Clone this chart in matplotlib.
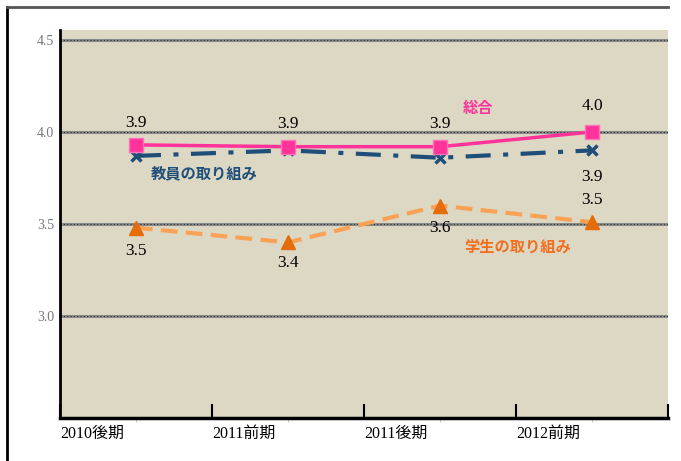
import matplotlib.pyplot as plt
from matplotlib.lines import Line2D

# data
periods = ['2010後期', '2011前期', '2011後期', '2012前期']
sogo = [3.93, 3.92, 3.92, 4.00]       # 総合
kyoin = [3.87, 3.90, 3.86, 3.90]      # 教員の取り組み
gakusei = [3.48, 3.40, 3.60, 3.51]    # 学生の取り組み
yticks = [3.0, 3.5, 4.0, 4.5]

serif = ['Liberation Serif', 'Noto Sans CJK JP']
gothic = ['Noto Sans CJK JP', 'DejaVu Sans']

pink = '#FF3399'
navy = '#1F4E79'
orange_line = '#F9A155'
orange_mark = '#E46C0A'

fig = plt.figure(figsize=(6.81, 4.61), dpi=100)
fig.patch.set_facecolor('white')
ax = fig.add_axes([60 / 681, 1 - 418 / 461, 608 / 681, 388 / 461])
ax.set_facecolor('#DDD8C4')

xs = [i + 0.5 for i in range(len(periods))]

# grid lines (gray band with dark dots)
for v in yticks:
    ax.axhline(v, color='#8a8a8a', lw=2.2, zorder=1)
    ax.axhline(v, color='#2a2a2a', lw=0.8, ls=(0, (1, 2)), zorder=1)

ax.plot(xs, kyoin, color=navy, lw=3, dashes=(6, 3, 1.2, 3),
        marker='x', ms=7, mew=2.5, zorder=3)
ax.plot(xs, sogo, color=pink, lw=2.5, marker='s', ms=10,
        mfc=pink, mec='#FF70B8', zorder=4)
ax.plot(xs, gakusei, color=orange_line, lw=3, dashes=(4, 2),
        marker='^', ms=10, mfc=orange_mark, mec=orange_mark, zorder=3)

# value labels
def lab(x, y, dy):
    ax.annotate(f'{y:.1f}', (x, y), xytext=(0, dy), textcoords='offset points',
                ha='center', va='center', fontsize=12.5, family=serif, zorder=5)

for i, v in enumerate(sogo):
    lab(xs[i], v, 19 if i == 3 else 16)
lab(xs[3], kyoin[3], -19)
offs = [-17, -15, -16, 16]
for i, v in enumerate(gakusei):
    lab(xs[i], v, offs[i])

# series names
ax.text(2.75, 4.13, '総合', color=pink, fontsize=11, fontweight='bold',
        family=gothic, ha='center', va='center')
ax.text(0.95, 3.777, '教員の取り組み', color=navy, fontsize=11, fontweight='bold',
        family=gothic, ha='center', va='center')
ax.text(3.01, 3.375, '学生の取り組み', color='#F07020', fontsize=11, fontweight='bold',
        family=gothic, ha='center', va='center')

ax.set_xlim(0, 4)
ax.set_ylim(2.446, 4.554)

ax.set_xticks([0, 1, 2, 3, 4])
ax.set_xticklabels(periods + [''], ha='left', fontsize=11.5, family=serif)
ax.tick_params(axis='x', direction='in', length=10, width=1.5, pad=6)
ax.set_xticks(xs, minor=True)
ax.tick_params(axis='x', which='minor', direction='out', length=3,
               width=0.6, color='#bbbbbb')

ax.set_yticks(yticks)
ax.set_yticklabels([f'{v:.1f}' for v in yticks], fontsize=10,
                   family=serif, color='#777777')
ax.tick_params(axis='y', length=0, pad=4)

for s in ['top', 'right']:
    ax.spines[s].set_visible(False)
ax.spines['left'].set_linewidth(2)
ax.spines['bottom'].set_linewidth(2.5)

# outer frame (cropped)
fig.add_artist(Line2D([7 / 681, 7 / 681], [0, 1 - 7 / 461], color='black', lw=2))
fig.add_artist(Line2D([7 / 681, 668 / 681], [1 - 7 / 461, 1 - 7 / 461],
                      color='#555555', lw=2))

fig.savefig('out.png', dpi=100)
